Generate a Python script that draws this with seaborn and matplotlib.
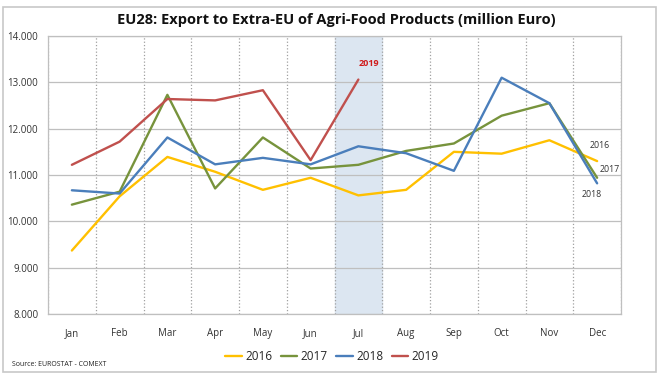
import numpy as np
import pandas as pd
import matplotlib
matplotlib.use('Agg')
import matplotlib.pyplot as plt
import seaborn as sns
from matplotlib.ticker import FuncFormatter, FixedLocator
from matplotlib.patches import Rectangle

months = ['Jan', 'Feb', 'Mar', 'Apr', 'May', 'Jun', 'Jul', 'Aug', 'Sep', 'Oct', 'Nov', 'Dec']
v2016 = [9370, 10540, 11390, 11070, 10680, 10940, 10560, 10680, 11500, 11460, 11750, 11300]
v2017 = [10360, 10640, 12730, 10710, 11810, 11140, 11220, 11520, 11680, 12280, 12550, 10940]
v2018 = [10670, 10600, 11810, 11230, 11370, 11230, 11620, 11470, 11090, 13100, 12550, 10820]
v2019 = [11220, 11720, 12640, 12610, 12830, 11320, 13060]
years = ['2016', '2017', '2018', '2019']
colors = ['#FFC000', '#77933C', '#4A7EBB', '#C0504D']

rows = []
for yr, vals in zip(years, [v2016, v2017, v2018, v2019]):
    for i, v in enumerate(vals):
        rows.append({'month': i, 'year': yr, 'value': v})
df = pd.DataFrame(rows)

sns.set_style('white')
plt.rcParams['font.family'] = ['Open Sans', 'DejaVu Sans']

fig = plt.figure(figsize=(6.6, 3.77), dpi=100)
ax = fig.add_axes([48/660, 1-314/377, (621-48)/660, (314-36)/377])

# outer frame
fig.patches.append(Rectangle((3/660, 1-372/377), 653/660, 365/377, transform=fig.transFigure,
                             fill=False, edgecolor='#c8c8c8', linewidth=1.2))

# highlighted current month
ax.axvspan(5.5, 6.5, color='#dce6f1', zorder=0)

sns.lineplot(data=df, x='month', y='value', hue='year', palette=dict(zip(years, colors)),
             linewidth=1.7, ax=ax, legend=True, zorder=3)

ax.set_xlim(-0.5, 11.5)
ax.set_ylim(8000, 14000)
ax.set_xticks(range(12))
ax.set_xticklabels(months)
ax.xaxis.set_minor_locator(FixedLocator(np.arange(-0.5, 12, 1)))
ax.set_yticks(np.arange(8000, 14001, 1000))
ax.yaxis.set_major_formatter(FuncFormatter(lambda v, p: f'{int(v):,}'.replace(',', '.')))
ax.tick_params(axis='x', which='major', length=0, labelsize=7, pad=10, labelcolor='#333333')
ax.tick_params(axis='x', which='minor', length=4, color='#999999', direction='out')
ax.tick_params(axis='y', length=4, color='#999999', labelsize=7, labelcolor='#333333', pad=3)
ax.grid(axis='y', color='#bfbfbf', linewidth=0.9)
ax.grid(axis='x', which='minor', color='#a0a0a0', linestyle=':', linewidth=0.9)
ax.grid(axis='x', which='major', visible=False)
for s in ax.spines.values():
    s.set_color('#bfbfbf')
    s.set_linewidth(0.9)
ax.set_xlabel('')
ax.set_ylabel('')

# labels
ax.text(6.22, 13400, '2019', color='#D01C1C', fontsize=6.5, fontweight='bold', ha='center', va='center')
ax.text(11.06, 11626, '2016', color='#333333', fontsize=6.3, ha='center', va='center')
ax.text(11.27, 11129, '2017', color='#333333', fontsize=6.3, ha='center', va='center')
ax.text(10.89, 10575, '2018', color='#333333', fontsize=6.3, ha='center', va='center')

fig.text(0.51, 1-20/377, 'EU28: Export to Extra-EU of Agri-Food Products (million Euro)',
         ha='center', va='center', fontsize=10.5, fontweight='bold', color='#111111')
fig.text(12/660, 1-364/377, 'Source: EUROSTAT - COMEXT', fontsize=5, color='#222222', va='center')

handles, labels = ax.get_legend_handles_labels()
ax.legend(handles, labels, loc='center', bbox_to_anchor=(0.503, 1-357/377), bbox_transform=fig.transFigure,
          ncol=4, frameon=False, fontsize=8.5, handlelength=1.4, handletextpad=0.3, columnspacing=0.7)

fig.savefig('out.png', dpi=100)
